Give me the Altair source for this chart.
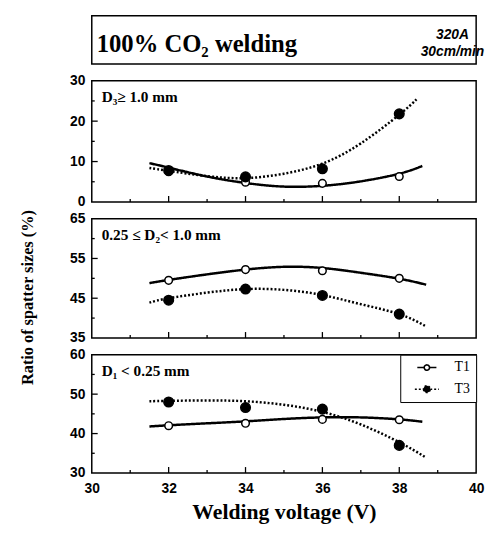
import altair as alt
import pandas as pd

# ---------------- data ----------------
voltage = [32, 34, 36, 38]
series_names = ["T1", "T3"]

# measured ratios (%)
d3_t1 = [7.5, 4.9, 4.6, 6.3]
d3_t3 = [7.8, 6.2, 8.2, 21.8]
d2_t1 = [49.5, 52.2, 51.9, 50.0]
d2_t3 = [44.5, 47.3, 45.7, 41.0]
d1_t1 = [42.0, 42.6, 43.6, 43.5]
d1_t3 = [48.0, 46.6, 46.2, 37.0]

# trend curves as drawn in the figure
d3_t1_fit_x = [31.5, 32, 33, 34, 35, 36, 37, 38, 38.6]
d3_t1_fit = [9.6, 8.5, 6.3, 4.7, 3.8, 4.0, 5.1, 7.0, 8.9]
d3_t3_fit_x = [31.5, 32, 33, 34, 35, 36, 37, 38, 38.45]
d3_t3_fit = [8.4, 7.7, 6.4, 5.9, 7.0, 9.5, 14.5, 21.6, 25.4]
d2_t1_fit_x = [31.5, 32, 33, 34, 35, 36, 37, 38, 38.7]
d2_t1_fit = [48.8, 49.6, 51.0, 52.2, 52.9, 52.6, 51.4, 49.9, 48.4]
d2_t3_fit_x = [31.5, 32, 33, 34, 35, 36, 37, 38, 38.7]
d2_t3_fit = [43.9, 45.0, 46.4, 47.3, 47.1, 45.8, 43.5, 41.0, 37.9]
d1_t1_fit_x = [31.5, 32, 33, 34, 35, 36, 37, 38, 38.6]
d1_t1_fit = [41.8, 42.1, 42.6, 43.1, 43.7, 44.1, 44.1, 43.6, 43.0]
d1_t3_fit_x = [31.5, 32, 33, 34, 35, 36, 37, 38, 38.7]
d1_t3_fit = [48.2, 48.3, 48.4, 48.2, 47.3, 45.5, 42.3, 37.8, 33.9]

# axes
x_labels = [30, 32, 34, 36, 38, 40]
x_major_ticks = [32, 34, 36, 38]
x_minor_ticks = [31, 33, 35, 37, 39]

d3_domain = [0, 30]
d3_labels = [0, 10, 20, 30]
d3_major = [10, 20]
d3_minor = [5, 15, 25]

d2_domain = [35, 65]
d2_labels = [35, 45, 55, 65]
d2_major = [45, 55]
d2_minor = [40, 50, 60]

d1_domain = [30, 60]
d1_labels = [30, 40, 50, 60]
d1_major = [40, 50]
d1_minor = [35, 45, 55]

# texts
title_main = "100% CO\u2082 welding"
title_cond1 = "320A"
title_cond2 = "30cm/min"
label_d3 = "D\u2083\u2265 1.0 mm"
label_d2 = "0.25 \u2264 D\u2082< 1.0 mm"
label_d1 = "D\u2081 <  0.25 mm"
x_title = "Welding voltage (V)"
y_title = "Ratio of spatter sizes (%)"

# ---------------- styling ----------------
SERIF = "Liberation Serif"
SANS = "Liberation Sans"
W = 390


def points_df(t1, t3):
    return pd.DataFrame({
        "V": voltage + voltage,
        "R": t1 + t3,
        "series": ["T1"] * len(t1) + ["T3"] * len(t3),
    })


def fit_df(x1, y1, x3, y3):
    return pd.DataFrame({
        "V": x1 + x3,
        "R": y1 + y3,
        "series": ["T1"] * len(x1) + ["T3"] * len(x3),
    })


legend_path = ("M-2.5,0L-0.7,0M0.7,0L2.5,0"
               "M-0.7,0A0.7,0.7 0 1,0 0.7,0A0.7,0.7 0 1,0 -0.7,0")


def make_panel(label, pts, fits, ydom, ylab, ymaj, ymin, h,
               show_x=False, show_legend=False, show_ytitle=False):
    xs = alt.Scale(domain=[30, 40], nice=False, zero=False)
    ys = alt.Scale(domain=ydom, nice=False, zero=False)
    if show_x:
        xaxis = alt.Axis(values=x_labels, ticks=False, domain=False, grid=False,
                         format="d", labelFont=SANS, labelFontSize=14,
                         labelFontWeight="bold", labelColor="black",
                         labelPadding=9, labelFlush=False,
                         title=x_title, titleFont=SERIF, titleFontSize=22,
                         titleFontWeight="bold", titleColor="black",
                         titlePadding=6)
    else:
        xaxis = None
    yargs = dict(values=ylab, ticks=False, domain=False, grid=False, format="d",
                 labelFont=SANS, labelFontSize=14, labelFontWeight="bold",
                 labelColor="black", labelPadding=7)
    if show_ytitle:
        yargs.update(title=y_title, titleFont=SERIF, titleFontSize=16.5,
                     titleFontWeight="bold", titleColor="black",
                     titleX=-65, titleY=h / 2 + 19, titleAngle=270,
                     titleAlign="center", titleBaseline="middle")
    else:
        yargs.update(title=None)
    yaxis = alt.Axis(**yargs)

    if show_legend:
        legend = alt.Legend(title=None, orient="top-right", offset=0,
                            padding=6, strokeColor="black", fillColor="white",
                            symbolType=legend_path, symbolSize=144,
                            symbolStrokeColor="black", symbolStrokeWidth=1.6,
                            symbolOffset=14, labelOffset=21, rowPadding=8,
                            labelFont=SERIF, labelFontSize=14,
                            labelColor="black")
    else:
        legend = None

    dash_scale = alt.Scale(domain=series_names, range=[[1, 0], [2, 2]])
    fill_scale = alt.Scale(domain=series_names, range=["white", "black"])
    size_scale = alt.Scale(domain=series_names, range=[60, 95])

    X = lambda f: alt.X(f, scale=xs, axis=xaxis)
    Y = lambda f: alt.Y(f, scale=ys, axis=yaxis)

    xt_major = alt.Chart(pd.DataFrame({"t": x_major_ticks})).mark_rule(
        color="black", strokeWidth=1.3).encode(
        x=X("t:Q"), y=alt.value(h), y2=alt.value(h - 6))
    xt_minor = alt.Chart(pd.DataFrame({"t": x_minor_ticks})).mark_rule(
        color="black", strokeWidth=1.3).encode(
        x=X("t:Q"), y=alt.value(h), y2=alt.value(h - 3))
    yt_major = alt.Chart(pd.DataFrame({"t": ymaj})).mark_rule(
        color="black", strokeWidth=1.3).encode(
        y=Y("t:Q"), x=alt.value(0), x2=alt.value(6))
    yt_minor = alt.Chart(pd.DataFrame({"t": ymin})).mark_rule(
        color="black", strokeWidth=1.3).encode(
        y=Y("t:Q"), x=alt.value(0), x2=alt.value(3))

    lines = alt.Chart(fits).mark_line(
        color="black", strokeWidth=2.5, interpolate="natural").encode(
        x=X("V:Q"), y=Y("R:Q"),
        strokeDash=alt.StrokeDash("series:N", scale=dash_scale, legend=legend))

    points = alt.Chart(pts).mark_point(
        shape="circle", filled=True, stroke="black", strokeWidth=1.5,
        opacity=1).encode(
        x=X("V:Q"), y=Y("R:Q"),
        fill=alt.Fill("series:N", scale=fill_scale, legend=legend),
        size=alt.Size("series:N", scale=size_scale, legend=None))

    text = alt.Chart(pd.DataFrame({"label": [label]})).mark_text(
        align="left", baseline="middle", font=SERIF, fontWeight="bold",
        fontSize=15.5, color="black").encode(
        x=alt.value(10), y=alt.value(17), text="label:N")

    return alt.layer(xt_major, xt_minor, yt_major, yt_minor, lines, points,
                     text).properties(width=W, height=h)


p1 = make_panel(label_d3, points_df(d3_t1, d3_t3),
                fit_df(d3_t1_fit_x, d3_t1_fit, d3_t3_fit_x, d3_t3_fit),
                d3_domain, d3_labels, d3_major, d3_minor, 123)
p2 = make_panel(label_d2, points_df(d2_t1, d2_t3),
                fit_df(d2_t1_fit_x, d2_t1_fit, d2_t3_fit_x, d2_t3_fit),
                d2_domain, d2_labels, d2_major, d2_minor, 121,
                show_ytitle=True)
p3 = make_panel(label_d1, points_df(d1_t1, d1_t3),
                fit_df(d1_t1_fit_x, d1_t1_fit, d1_t3_fit_x, d1_t3_fit),
                d1_domain, d1_labels, d1_major, d1_minor, 120,
                show_x=True, show_legend=True)

# title box
one = pd.DataFrame({"t": [title_main], "c1": [title_cond1], "c2": [title_cond2]})
tb_main = alt.Chart(one).mark_text(
    align="left", baseline="middle", font=SERIF, fontWeight="bold",
    fontSize=25, color="black").encode(
    x=alt.value(5), y=alt.value(29), text="t:N")
tb_c1 = alt.Chart(one).mark_text(
    align="center", baseline="middle", font=SANS, fontWeight="bold",
    fontStyle="italic", fontSize=14, color="black").encode(
    x=alt.value(366), y=alt.value(20), text="c1:N")
tb_c2 = alt.Chart(one).mark_text(
    align="center", baseline="middle", font=SANS, fontWeight="bold",
    fontStyle="italic", fontSize=14, color="black").encode(
    x=alt.value(366), y=alt.value(37), text="c2:N")
title_box = alt.layer(tb_main, tb_c1, tb_c2).properties(width=W, height=49)

panels = alt.vconcat(p1, p2, p3, spacing=17, bounds="flush").resolve_scale(
    fill="independent", strokeDash="independent", size="independent"
).resolve_legend(
    fill="independent", strokeDash="independent", size="independent"
)

chart = alt.vconcat(title_box, panels, spacing=17, bounds="flush").properties(
    padding={"left": 11, "top": 3, "right": 0, "bottom": 0},
    background="white",
).configure_view(stroke="black", strokeWidth=1.5)

chart.save("out.html", embed_options={"renderer": "svg", "actions": False})
